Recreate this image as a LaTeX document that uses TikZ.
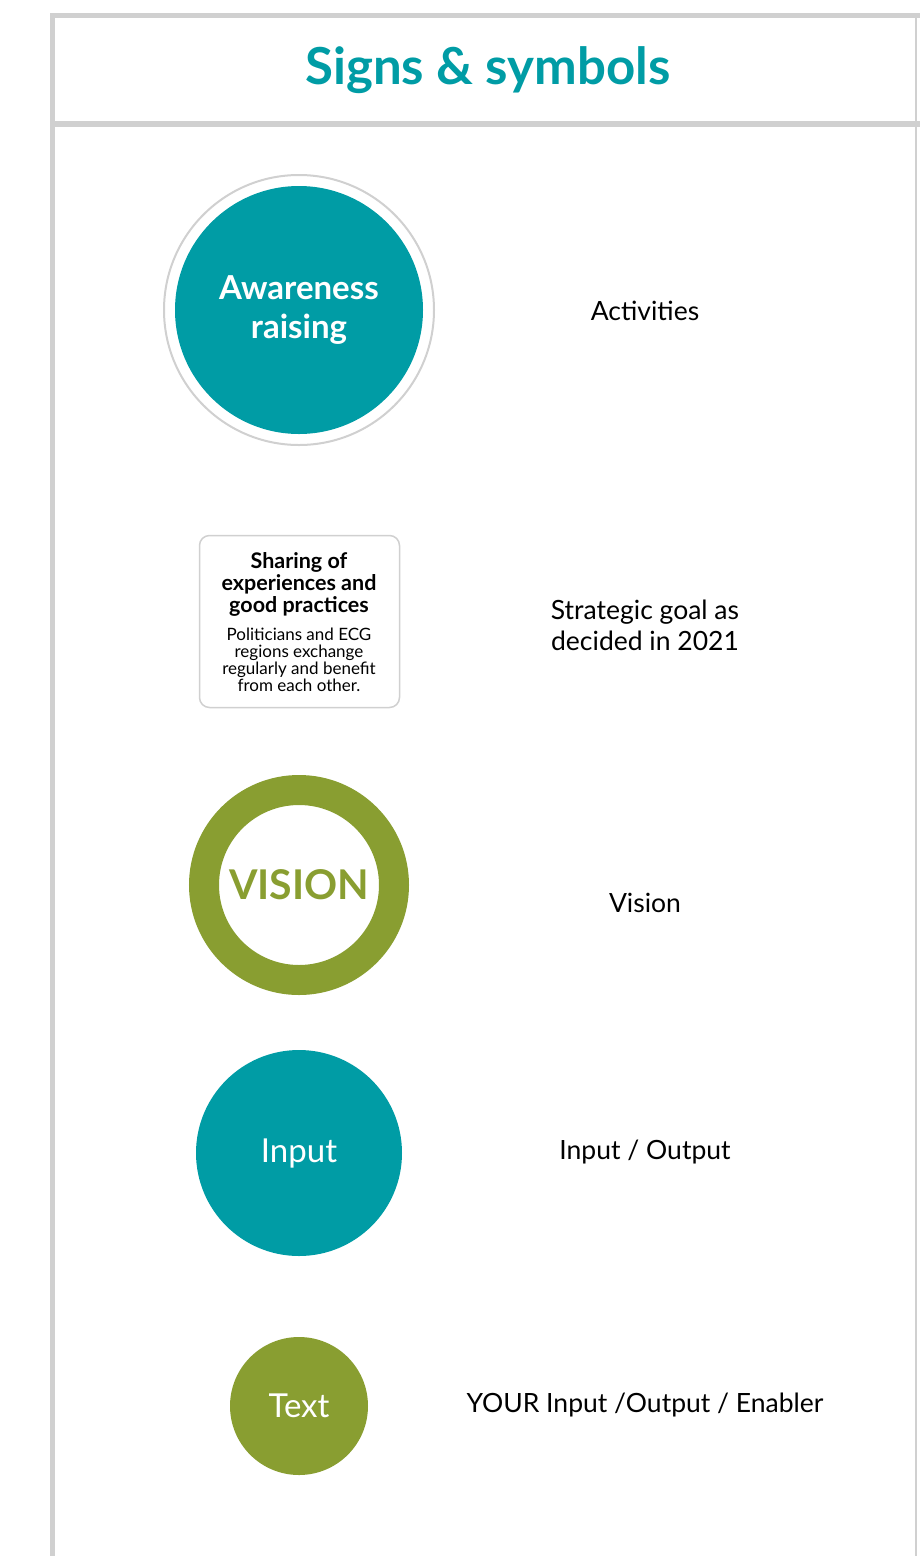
\documentclass[tikz,border=0pt]{standalone}
\usepackage{fontspec}
\setmainfont{Lato}

\definecolor{tealsym}{RGB}{0,156,165}
\definecolor{olivesym}{RGB}{137,158,49}
\definecolor{framegray}{RGB}{208,208,208}

\tikzset{
  sidetext/.style={font=\fontsize{26.5}{31}\selectfont, align=center, inner sep=0},
  symcircle/.style={circle, inner sep=0, text=white, align=center},
}

\begin{document}
\begin{tikzpicture}[x=1pt, y=-1pt]
\useasboundingbox (0,0) rectangle (919,1556);

\draw [framegray, line width=5pt](52.5,1570) |- (930,15);
\draw [framegray, line width=6pt](52.5,124) -- (930,124);
\draw [framegray, line width=1.5pt](916,15) -- (916,1570);

\node [font=\bfseries\fontsize{51}{56}\selectfont, text=tealsym, inner sep=0] (title) at (488,70) {Signs \& symbols};

% activities
\node [circle, draw=framegray, line width=2pt, minimum size=270pt, inner sep=0] (awarering) at (299,310) {};
\node [symcircle, fill=tealsym, minimum size=248pt, font=\bfseries\fontsize{33}{39}\selectfont] (aware) at (299,310) {Awareness\\raising};
\node [sidetext] (activities) at (645,311) {Activities};

% strategic goal
\node [draw=framegray, line width=1.5pt, rounded corners=10pt, minimum width=200pt, minimum height=172pt, inner sep=0] (goal) at (299.5,621.5) {};
\node [font=\bfseries\fontsize{21.5}{22}\selectfont, align=center, inner sep=0] (goaltitle) at (299,584) {Sharing of\\experiences and\\good practices};
\node [font=\fontsize{17}{17}\selectfont, align=center, inner sep=0] (goaltext) at (299,660) {Politicians and ECG\\regions exchange\\regularly and benefit\\from each other.};
\node [sidetext] (strategic) at (645,625) {Strategic goal as\\decided in 2021};

% vision
\node [circle, draw=olivesym, line width=30pt, minimum size=190pt, inner sep=0] (vision) at (299,885) {};
\node [font=\bfseries\fontsize{41}{46}\selectfont, text=olivesym, inner sep=0] (visiontext) at (299,885) {VISION};
\node [sidetext] (visionlabel) at (645,903) {Vision};

% input / output
\node [symcircle, fill=tealsym, minimum size=206pt, font=\fontsize{33}{38}\selectfont] (input) at (299,1153) {Input};
\node [sidetext] (inout) at (645,1152) {Input / Output};

% your input
\node [symcircle, fill=olivesym, minimum size=138pt, font=\fontsize{33}{38}\selectfont] (text) at (299,1406) {Text};
\node [sidetext] (enabler) at (645,1405) {YOUR Input /Output / Enabler};

\end{tikzpicture}
\end{document}
